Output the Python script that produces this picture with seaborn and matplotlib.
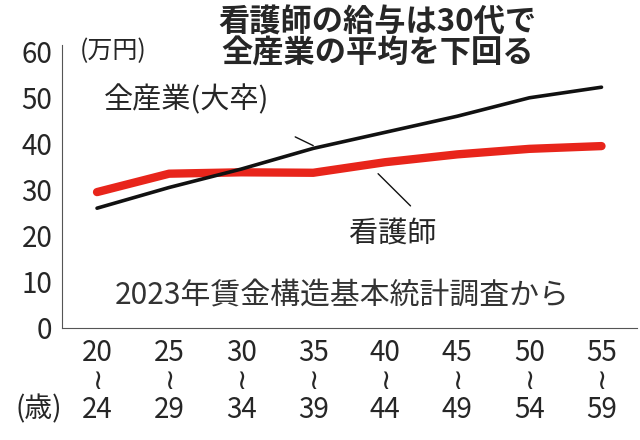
import matplotlib
matplotlib.use("Agg")
import matplotlib.pyplot as plt
import seaborn as sns
import pandas as pd

ages_from = ["20", "25", "30", "35", "40", "45", "50", "55"]
ages_to = ["24", "29", "34", "39", "44", "49", "54", "59"]
all_industry = [26, 30.5, 34.5, 39, 42.5, 46, 50, 52.3]
nurse = [29.5, 33.5, 33.8, 33.7, 36, 37.7, 38.9, 39.5]

sns.set_style("white")
plt.rcParams['font.family'] = ['Noto Sans CJK JP', 'DejaVu Sans']

df = pd.DataFrame({"x": range(len(ages_from)), "all": all_industry, "nurse": nurse})

fig = plt.figure(figsize=(6.4, 4.4), dpi=100)
ax = fig.add_axes([0.097, 0.255, 0.898, 0.643])
sns.lineplot(data=df, x="x", y="nurse", color="#e8251b", lw=6, ax=ax)
sns.lineplot(data=df, x="x", y="all", color="#111111", lw=2.6, ax=ax)

ax.set_xlim(-0.485, 7.49)
ax.set_ylim(0, 61.5)
ax.set_yticks(range(0, 61, 10))
ax.set_yticklabels([str(v) for v in range(0, 61, 10)], fontsize=20)
ax.set_xticks(range(len(ages_from)))
ax.set_xticklabels([f"{a}\n≀\n{b}" for a, b in zip(ages_from, ages_to)],
                   fontsize=20, linespacing=0.95)
ax.tick_params(axis="both", length=5, width=1, color="#555555", pad=2)
ax.set_xlabel("")
ax.set_ylabel("")
for s in ["top", "right"]:
    ax.spines[s].set_visible(False)
for s in ["left", "bottom"]:
    ax.spines[s].set_color("#555555")

fig.text(0.025, 0.07, "(歳)", fontsize=20, va="center")
fig.text(0.125, 0.885, "(万円)", fontsize=18, va="center")
fig.text(0.59, 0.985, "看護師の給与は30代で\n全産業の平均を下回る", fontsize=22.5,
         fontweight="bold", ha="center", va="top", linespacing=0.95)
ax.text(0.1, 49.5, "全産業(大卒)", fontsize=21, va="center")
ax.plot([3.0, 2.75], [39.6, 41.5], color="#111111", lw=1)
ax.text(3.5, 20.5, "看護師", fontsize=21, va="center")
ax.plot([3.9, 4.35], [33.5, 26.5], color="#111111", lw=1)
ax.text(3.4, 7.0, "2023年賃金構造基本統計調査から", fontsize=21.5, ha="center",
        va="center", color="#333333")

fig.savefig("out.png", dpi=100)
